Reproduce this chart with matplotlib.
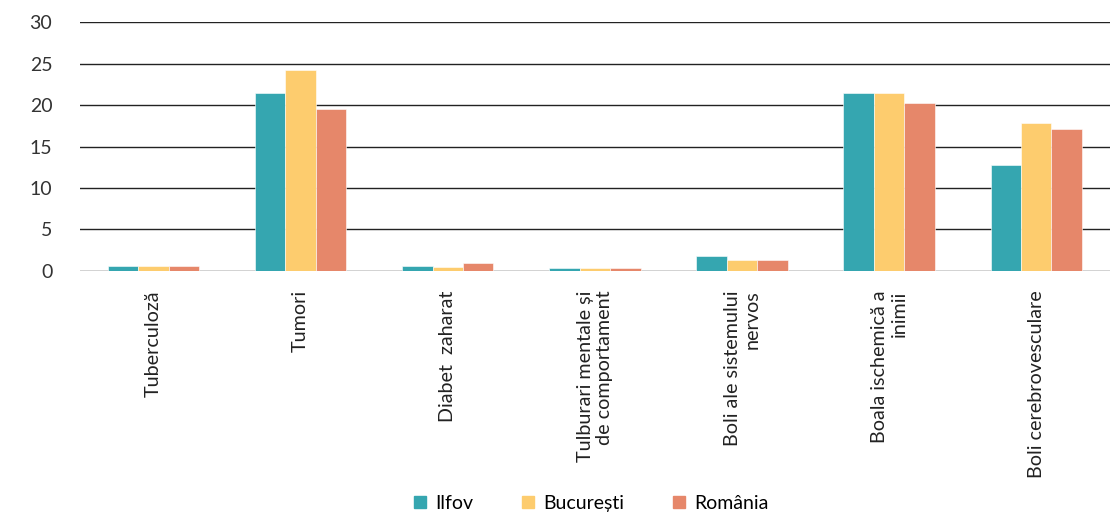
import matplotlib
matplotlib.use("Agg")
import matplotlib.pyplot as plt
from matplotlib.patches import Patch
import numpy as np

plt.rcParams["font.family"] = ["Lato", "DejaVu Sans"]

categories = [
    "Tuberculoză",
    "Tumori",
    "Diabet  zaharat",
    "Tulburari mentale și\nde comportament",
    "Boli ale sistemului\nnervos",
    "Boala ischemică a\ninimii",
    "Boli cerebrovesculare",
]
series_names = ["Ilfov", "București", "România"]
ilfov = [0.6, 21.4, 0.55, 0.4, 1.75, 21.4, 12.8]
bucuresti = [0.6, 24.2, 0.5, 0.4, 1.35, 21.4, 17.8]
romania = [0.6, 19.5, 1.0, 0.4, 1.35, 20.2, 17.1]
yticks = [0, 5, 10, 15, 20, 25, 30]

COLORS = ["#35A6B0", "#FDCC6E", "#E6876A"]

fig = plt.figure(figsize=(11.12, 5.16), dpi=100)
ax = fig.add_axes([0.072, 0.475, 0.926, 0.482])

x = np.arange(len(categories))
width = 0.207
for i, vals in enumerate([ilfov, bucuresti, romania]):
    ax.bar(x + (i - 1) * width, vals, width, color=COLORS[i], zorder=3,
           edgecolor="white", linewidth=0.4)

ax.set_xlim(-0.5, len(categories) - 0.5)
ax.set_ylim(0, 30)
ax.set_yticks(yticks)
ax.set_yticklabels([str(t) for t in yticks], fontsize=14, color="#333333")
ax.yaxis.grid(True, color="#222222", linewidth=1.0, zorder=0)
ax.tick_params(axis="y", length=0, pad=20)
ax.tick_params(axis="x", length=0, pad=14)
for side in ["top", "right", "left", "bottom"]:
    ax.spines[side].set_visible(False)

ax.set_xticks(x)
ax.set_xticklabels(categories, rotation=90, fontsize=14.2, color="#222222",
                   ha="center", va="top", multialignment="right")

handles = [Patch(color=c, label=n) for c, n in zip(COLORS, series_names)]
fig.legend(handles=handles, loc="center", bbox_to_anchor=(0.532, 0.024),
           ncol=3, frameon=False, fontsize=14, handlelength=0.6, handleheight=0.6,
           columnspacing=2.5, handletextpad=0.5, borderpad=0.1)

fig.savefig("out.png", dpi=100)
